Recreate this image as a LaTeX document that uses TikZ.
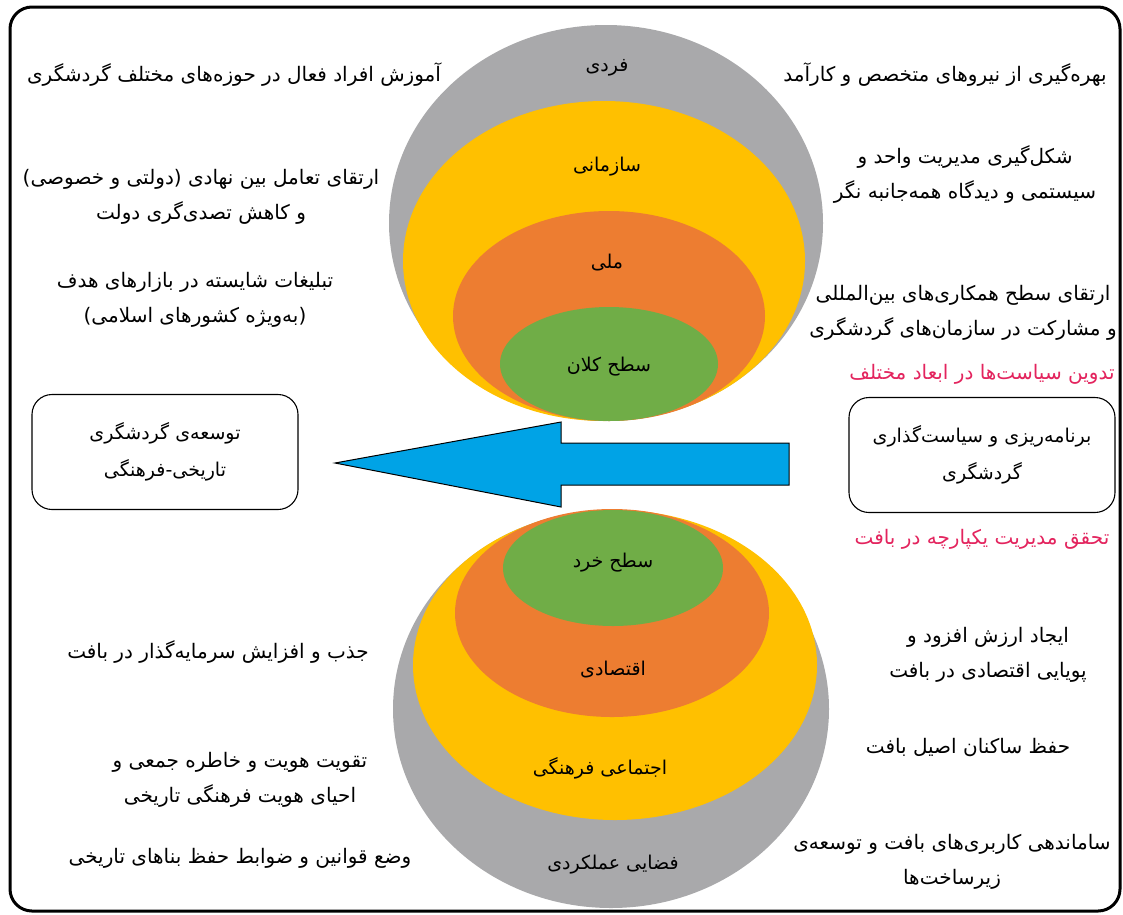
\documentclass[tikz,border=0pt]{standalone}
\usepackage{fontspec}
\usepackage{tikz}
\usetikzlibrary{positioning}
\newfontfamily\farsi[Script=Arabic]{DejaVu Sans}
\TeXXeTstate=1
\newcommand{\fa}[1]{\beginR #1\endR}
\definecolor{ringgray}{HTML}{A9A9AB}
\definecolor{ringyellow}{HTML}{FFC000}
\definecolor{ringorange}{HTML}{ED7D31}
\definecolor{ringgreen}{HTML}{70AD47}
\definecolor{arrowblue}{HTML}{00A3E6}
\definecolor{notered}{HTML}{E3245E}

\begin{document}
\begin{tikzpicture}[x=1pt,y=-1pt,
    txt/.style={font=\farsi\fontsize{20}{35}\selectfont, align=center, inner sep=0pt},
    ring/.style={font=\farsi\fontsize{19}{35}\selectfont, inner sep=0pt},
    note/.style={txt, text=notered},
    goalbox/.style={draw, line width=1.1pt, rounded corners=20pt, minimum width=266pt, minimum height=115pt,
      align=center, font=\farsi\fontsize{19}{37}\selectfont}]
      \useasboundingbox (0,0) rectangle (1123,914);

      % upper rings
      \fill[ringgray] (606,223) ellipse [x radius=217, y radius=198];
      \fill[ringyellow] (604,261) ellipse [x radius=201, y radius=160];
      \fill[ringorange] (609,316) ellipse [x radius=156, y radius=105];
      \fill[ringgreen] (609,364) ellipse [x radius=109, y radius=57];
      \node[ring] (fardi) at (607,68) {\fa{فردی}};
      \node[ring] (sazmani) at (607,167) {\fa{سازمانی}};
      \node[ring] (melli) at (607,263) {\fa{ملی}};
      \node[ring] (kalan) at (609,367) {\fa{سطح کلان}};

      % lower rings
      \fill[ringgray] (611,709) ellipse [x radius=218, y radius=199];
      \fill[ringyellow] (615,665) ellipse [x radius=202, y radius=155];
      \fill[ringorange] (612,613) ellipse [x radius=157, y radius=104];
      \fill[ringgreen] (613,568) ellipse [x radius=110, y radius=58];
      \node[ring] (khord) at (613,563) {\fa{سطح خرد}};
      \node[ring] (eghtesadi) at (613,670) {\fa{اقتصادی}};
      \node[ring] (farhangi) at (600,768) {\fa{اجتماعی فرهنگی}};
      \node[ring] (fazaei) at (613,865) {\fa{فضایی عملکردی}};

      % boxes and arrow
      \node[goalbox] (tose) at (165,452) {\fa{توسعه‌ی گردشگری}\\\fa{تاریخی-فرهنگی}};
      \node[goalbox] (plan) at (982,455) {\fa{برنامه‌ریزی و سیاست‌گذاری}\\\fa{گردشگری}};
      \filldraw[fill=arrowblue, draw=black, line width=1pt]
        (335,463) -- (561,422) -- (561,443) -- (789,443) -- (789,485) -- (561,485) -- (561,507) -- cycle;
      \node[note] (tadvin) [above=12pt of plan] {\fa{تدوین سیاست‌ها در ابعاد مختلف}};
      \node[note] (tahaghogh) [below=16pt of plan] {\fa{تحقق مدیریت یکپارچه در بافت}};

      % upper notes
      \node[txt] (amoozesh) at (234,75) {\fa{آموزش افراد فعال در حوزه‌های مختلف گردشگری}};
      \node[txt] (tamol) at (201,197) {\fa{ارتقای تعامل بین نهادی (دولتی و خصوصی)}\\\fa{و کاهش تصدی‌گری دولت}};
      \node[txt] (tablighat) at (195,300) {\fa{تبلیغات شایسته در بازارهای هدف}\\\fa{(به‌ویژه کشورهای اسلامی)}};
      \node[txt] (nirooha) at (945,75) {\fa{بهره‌گیری از نیروهای متخصص و کارآمد}};
      \node[txt] (modiriat) at (965,174) {\fa{شکل‌گیری مدیریت واحد و}\\\fa{سیستمی و دیدگاه همه‌جانبه نگر}};
      \node[txt] (hamkari) at (963,313) {\fa{ارتقای سطح همکاری‌های بین‌المللی}\\\fa{و مشارکت در سازمان‌های گردشگری}};

      % lower notes
      \node[txt] (jazb) at (218,652) {\fa{جذب و افزایش سرمایه‌گذار در بافت}};
      \node[txt] (hoviat) at (240,780) {\fa{تقویت هویت و خاطره جمعی و}\\\fa{احیای هویت فرهنگی  تاریخی}};
      \node[txt] (ghavanin) at (240,858) {\fa{وضع قوانین و ضوابط حفظ بناهای تاریخی}};
      \node[txt] (arzesh) at (988,655) {\fa{ایجاد ارزش افزود و}\\\fa{پویایی اقتصادی در بافت}};
      \node[txt] (sakenan) at (968,748) {\fa{حفظ ساکنان اصیل بافت}};
      \node[txt] (samandehi) at (952,862) {\fa{ساماندهی کاربری‌های بافت و توسعه‌ی}\\\fa{زیرساخت‌ها}};

      % frame
      \draw[line width=3pt, rounded corners=22pt] (10,7) rectangle (1120,911);
    \end{tikzpicture}
\end{document}
